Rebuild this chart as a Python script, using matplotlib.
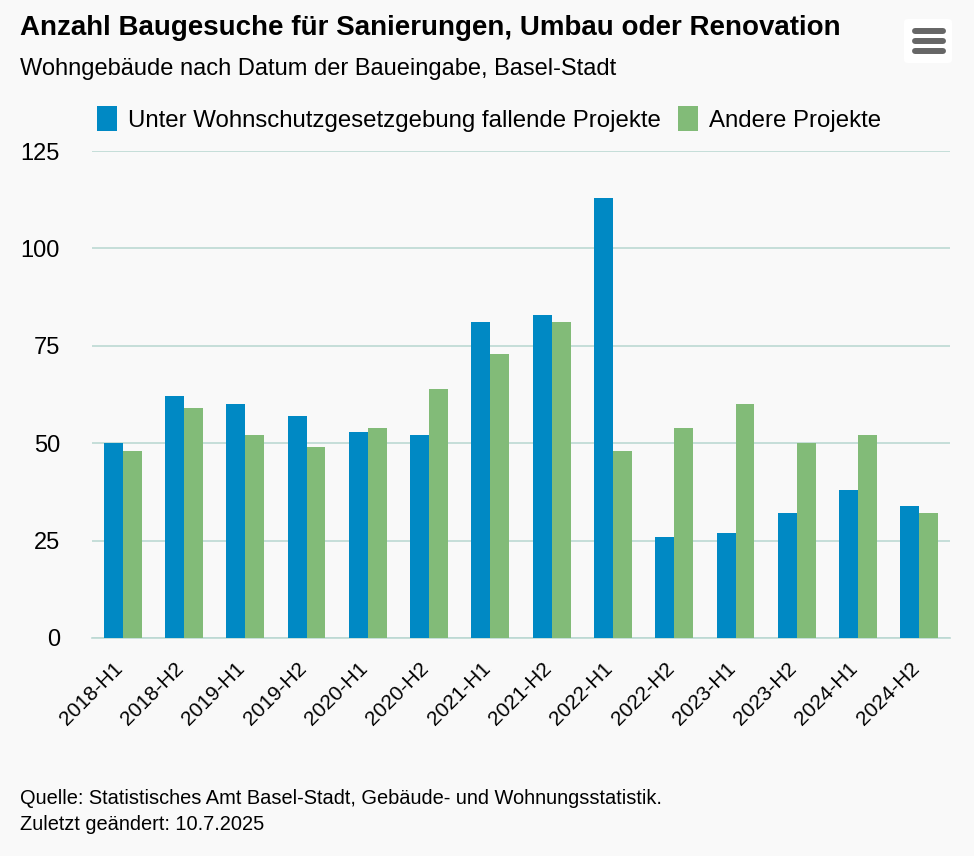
import matplotlib.pyplot as plt
from matplotlib.patches import FancyBboxPatch
from matplotlib.transforms import ScaledTranslation
import numpy as np

# data
categories = ["2018-H1", "2018-H2", "2019-H1", "2019-H2", "2020-H1", "2020-H2", "2021-H1",
              "2021-H2", "2022-H1", "2022-H2", "2023-H1", "2023-H2", "2024-H1", "2024-H2"]
wohnschutz = [50, 62, 60, 57, 53, 52, 81, 83, 113, 26, 27, 32, 38, 34]
andere = [48, 59, 52, 49, 54, 64, 73, 81, 48, 54, 60, 50, 52, 32]
yticks = [0, 25, 50, 75, 100, 125]

plt.rcParams['font.family'] = ['Liberation Sans', 'DejaVu Sans']

W, H = 974, 856
bg = "#f9f9f9"
blue = "#0089c4"
green = "#82bb78"
gridc = "#bcd9d3"

fig = plt.figure(figsize=(W / 100, H / 100), dpi=100, facecolor=bg)
ax = fig.add_axes([92 / W, 1 - 638 / H, (950 - 92) / W, (638 - 151) / H])
ax.set_facecolor(bg)

x = np.arange(len(categories))
bw = 0.31
ax.bar(x - bw / 2, wohnschutz, bw, color=blue, label="Unter Wohnschutzgesetzgebung fallende Projekte", zorder=3)
ax.bar(x + bw / 2, andere, bw, color=green, label="Andere Projekte", zorder=3)

ax.set_xlim(-0.5, len(categories) - 0.5)
ax.set_ylim(0, 125)
ax.set_yticks(yticks)
ax.set_yticklabels([str(t) for t in yticks], fontsize=17)
ax.yaxis.grid(True, color=gridc, linewidth=1.2, zorder=0)
for s in ["top", "right", "left"]:
    ax.spines[s].set_visible(False)
ax.spines["bottom"].set_color(gridc)
ax.spines["bottom"].set_linewidth(1.2)
ax.tick_params(axis="y", length=0, pad=23)
ax.tick_params(axis="x", length=0, pad=20)
ax.set_xticks(x)
ax.set_xticklabels(categories, rotation=45, ha="right", va="center", rotation_mode="anchor", fontsize=15)
shift = ScaledTranslation(-0.03, 0, fig.dpi_scale_trans)
for lab in ax.get_xticklabels():
    lab.set_transform(lab.get_transform() + shift)

# titles
fig.text(20 / W, 1 - 28 / H, "Anzahl Baugesuche für Sanierungen, Umbau oder Renovation",
         fontsize=20, fontweight="bold", va="center", ha="left")
fig.text(20 / W, 1 - 69 / H, "Wohngebäude nach Datum der Baueingabe, Basel-Stadt",
         fontsize=17, va="center", ha="left")

# legend
fig.legend(loc="center", bbox_to_anchor=(489 / W, 1 - 119 / H), ncol=2, frameon=False,
           fontsize=17.3, handlelength=0.85, handleheight=1.2, handletextpad=0.45, columnspacing=0.7)

# footer
fig.text(20 / W, 1 - 798 / H, "Quelle: Statistisches Amt Basel-Stadt, Gebäude- und Wohnungsstatistik.",
         fontsize=14.4, va="center", ha="left")
fig.text(20 / W, 1 - 825 / H, "Zuletzt geändert: 10.7.2025", fontsize=14.4, va="center", ha="left")

# menu icon
fig.add_artist(FancyBboxPatch((904 / W, 1 - 63 / H), 48 / W, 44 / H,
                              boxstyle="round,pad=0,rounding_size=0.004",
                              facecolor="white", edgecolor="none", transform=fig.transFigure))
for yy in [31, 41, 51]:
    fig.add_artist(plt.Line2D([915 / W, 943 / W], [1 - yy / H, 1 - yy / H], color="#666666",
                              linewidth=4.3, solid_capstyle="round"))

fig.savefig("out.png", dpi=100, facecolor=bg)
